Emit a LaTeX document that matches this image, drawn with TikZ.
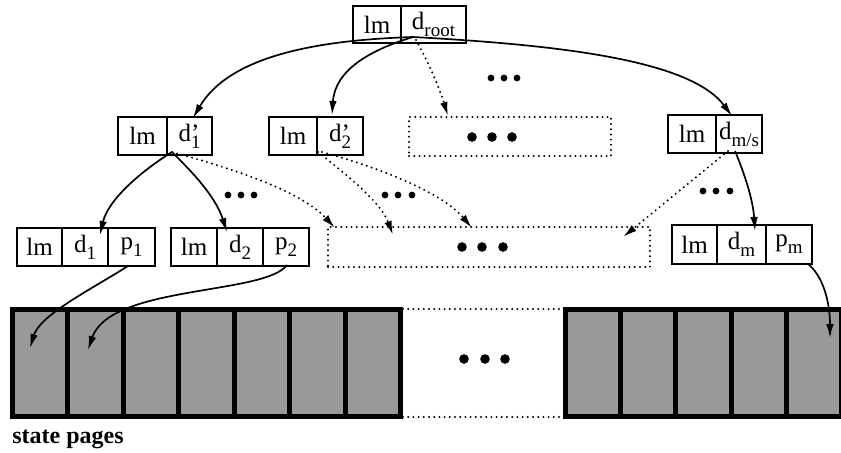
\documentclass[tikz,border=0pt]{standalone}
\usepackage{fontspec}
\setmainfont{Liberation Serif}
\usetikzlibrary{arrows.meta,calc}
\newcommand{\sbs}[1]{\raisebox{-0.6ex}{\fontsize{9.5}{10}\selectfont #1}}
\definecolor{pagegray}{gray}{0.6}
\begin{document}
\begin{tikzpicture}[x=0.5pt,y=-0.5pt,
  cell/.style={draw, line width=0.7pt, inner sep=0pt, minimum height=19pt, font=\fontsize{12.5}{13}\selectfont},
  dotline/.style={line width=1.1pt, line cap=round, dash pattern=on 0pt off 2.6pt},
  dbox/.style={draw, dotline, inner sep=0pt},
  arr/.style={line width=0.85pt, -{Latex[length=7pt,width=3.8pt]}},
  darr/.style={dotline, -{Latex[length=7pt,width=3.8pt]}},
  sdot/.style={circle, fill, inner sep=0pt, minimum size=3.4pt},
  bdot/.style={circle, fill, inner sep=0pt, minimum size=4.8pt},
  blk/.style={fill=black},
  pg/.style={fill=pagegray}
]
\useasboundingbox (0,0) rectangle (841,452);

% root
\node[cell, minimum width=24pt, minimum height=18.5pt] (rL) at (377,24.5) {lm};
\node[cell, minimum width=32.5pt, minimum height=18.5pt] (rD) at (433.5,24.5) {d\sbs{root}};

% level 1
\node[cell, minimum width=24.5pt] (aL) at (142.5,136) {lm};
\node[cell, minimum width=22.5pt] (aD) at (189.5,136) {d\rlap{’}\sbs{1}};
\node[cell, minimum width=24pt] (bL) at (293,136) {lm};
\node[cell, minimum width=23pt] (bD) at (340,136) {d\rlap{’}\sbs{2}};
\node[dbox, minimum width=101pt, minimum height=19.5pt] (mid1) at (510,136.5) {};
\node[cell, minimum width=24pt] (cL) at (692,134) {lm};
\node[cell, minimum width=23pt] (cD) at (739,134) {d\sbs{m/s}};

% level 2
\node[cell, minimum width=22.5pt] (xL) at (39.5,247) {lm};
\node[cell, minimum width=23pt] (xD) at (85,247) {d\sbs{1}};
\node[cell, minimum width=23.5pt] (xP) at (131.5,247) {p\sbs{1}};
\node[cell, minimum width=23pt] (yL) at (194,247) {lm};
\node[cell, minimum width=23pt] (yD) at (240,247) {d\sbs{2}};
\node[cell, minimum width=23pt] (yP) at (286,247) {p\sbs{2}};
\node[dbox, minimum width=161pt, minimum height=20pt] (mid2) at (489,247) {};
\node[cell, minimum width=22.5pt, minimum height=19.5pt] (zL) at (694.5,244.5) {lm};
\node[cell, minimum width=24.5pt, minimum height=19.5pt] (zD) at (741.5,244.5) {d\sbs{m}};
\node[cell, minimum width=23pt, minimum height=19.5pt] (zP) at (789,244.5) {p\sbs{m}};

% ellipses
\node[sdot] (e1a) at (491,78) {}; \node[sdot] (e1b) at (504,78) {}; \node[sdot] (e1c) at (517,78) {};
\node[bdot] (e2a) at (472,137) {}; \node[bdot] (e2b) at (492,137) {}; \node[bdot] (e2c) at (512,137) {};
\node[sdot] (e3a) at (228,195) {}; \node[sdot] (e3b) at (241,195) {}; \node[sdot] (e3c) at (254,195) {};
\node[sdot] (e4a) at (385,195) {}; \node[sdot] (e4b) at (398,195) {}; \node[sdot] (e4c) at (412,195) {};
\node[sdot] (e5a) at (703,191) {}; \node[sdot] (e5b) at (716,191) {}; \node[sdot] (e5c) at (730,191) {};
\node[bdot] (e6a) at (462,247) {}; \node[bdot] (e6b) at (482,247) {}; \node[bdot] (e6c) at (503,247) {};
\node[bdot] (e7a) at (464,359) {}; \node[bdot] (e7b) at (485,359) {}; \node[bdot] (e7c) at (505,359) {};

% state pages
\fill[blk] (10,307) rectangle (403,419);
\foreach \i in {0,...,6} \fill[pg] ({15+\i*55.43},312) rectangle ++(50.43,102);
\fill[blk] (563,307) rectangle (846,419);
\foreach \i in {0,...,4} \fill[pg] ({568+\i*55.2},312) rectangle ++(50.2,102);
\coordinate (lbT) at (403,309); \coordinate (rbT) at (563,309);
\coordinate (lbB) at (403,417); \coordinate (rbB) at (563,417);
\draw[dotline] (lbT) -- (rbT);
\draw[dotline] (lbB) -- (rbB);
\node[anchor=base west, inner sep=0pt, font=\bfseries\fontsize{12}{14}\selectfont] (lbl) at (12,443) {state pages};

% connector origins and ends
\coordinate (r0) at (413,37);
\coordinate (a0) at (172,152);
\coordinate (b0) at (318,152);
\coordinate (b1) at (322,152);
\coordinate (c0) at (735,151);
\coordinate (c1) at (728,151);
\coordinate (tA) at (193,118);
\coordinate (tB) at (332,115);
\coordinate (tM) at (448,116);
\coordinate (tC) at (732,116);
\coordinate (tX) at (100,235);
\coordinate (tY) at (227,232);
\coordinate (tM2a) at (335,228);
\coordinate (tM2b) at (393,235);
\coordinate (tM2c) at (472,228);
\coordinate (tM2d) at (623,237);
\coordinate (tZ) at (755,231);
\coordinate (x0) at (128,266);
\coordinate (y0) at (287,265);
\coordinate (z0) at (808,264);
\coordinate (pg1) at (30,348);
\coordinate (pg2) at (88,350);
\coordinate (pgm) at (830,338);

% root connectors
\draw[arr] (r0) .. controls (320,40) and (230,55) .. (tA);
\draw[arr] (r0) .. controls (370,50) and (335,70) .. (tB);
\draw[darr] (416,40) .. controls (430,65) and (440,90) .. (tM);
\draw[arr] (r0) .. controls (560,45) and (690,60) .. (tC);

% level 1 connectors
\draw[arr] (a0) .. controls (140,172) and (108,200) .. (tX);
\draw[arr] (a0) .. controls (190,170) and (215,195) .. (tY);
\draw[darr] (a0) .. controls (230,168) and (300,190) .. (tM2a);
\draw[darr] (b0) .. controls (340,170) and (380,200) .. (tM2b);
\draw[darr] (b1) .. controls (370,165) and (440,190) .. (tM2c);
\draw[darr] (c1) -- (tM2d);
\draw[arr] (c0) .. controls (745,175) and (753,200) .. (tZ);

% page pointers
\draw[arr] (x0) .. controls (90,290) and (40,315) .. (pg1);
\draw[arr] (y0) .. controls (265,295) and (110,285) .. (pg2);
\draw[arr] (z0) .. controls (822,275) and (830,300) .. (pgm);
\end{tikzpicture}
\end{document}
